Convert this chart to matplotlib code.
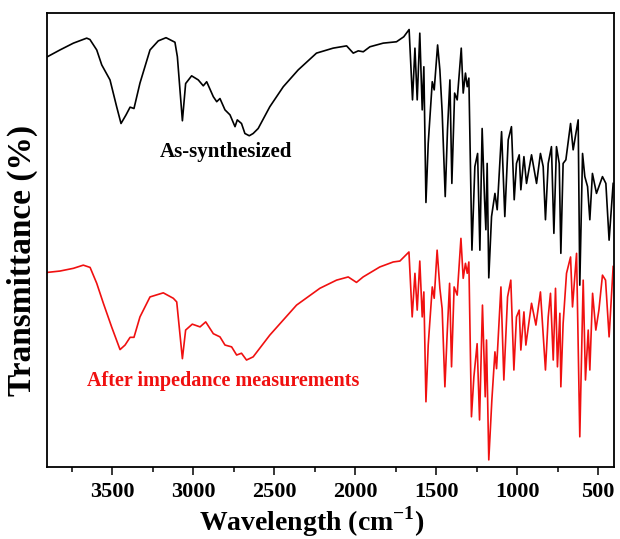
import numpy as np
import matplotlib
matplotlib.use('Agg')
from matplotlib import pyplot as plt
from matplotlib.ticker import MultipleLocator

plt.rcParams['font.family'] = ['Liberation Serif', 'DejaVu Serif']
plt.rcParams['font.weight'] = 'bold'
plt.rcParams['mathtext.fontset'] = 'custom'
plt.rcParams['mathtext.rm'] = 'Liberation Serif'
plt.rcParams['mathtext.bf'] = 'Liberation Serif:bold'

# as-synthesized spectrum
bk_wn = [3901, 3823, 3740, 3658, 3638, 3596, 3565, 3514, 3473, 3446,
         3415, 3390, 3366, 3329, 3267, 3216, 3168, 3113, 3098, 3067,
         3047, 3010, 2969, 2938, 2917, 2876, 2855, 2835, 2804, 2773,
         2742, 2728, 2702, 2681, 2654, 2630, 2599, 2527, 2444, 2352,
         2239, 2136, 2053, 2012, 1981, 1950, 1909, 1827, 1745, 1700,
         1667, 1646, 1631, 1617, 1601, 1586, 1576, 1563, 1549, 1524,
         1512, 1491, 1477, 1463, 1444, 1430, 1415, 1403, 1386, 1370,
         1345, 1333, 1319, 1308, 1298, 1279, 1261, 1244, 1230, 1216,
         1201, 1193, 1185, 1175, 1158, 1137, 1123, 1096, 1076, 1055,
         1035, 1018, 1004, 987, 977, 958, 942, 911, 880, 856,
         839, 825, 808, 788, 773, 757, 740, 730, 716, 699,
         670, 654, 623, 613, 596, 582, 565, 551, 535, 510,
         473, 452, 432, 407]
bk_t = [90.3, 91.8, 93.3, 94.4, 94.1, 91.8, 88.5, 85.2, 79.3, 75.6,
        77.5, 79.2, 78.9, 84.5, 91.8, 93.8, 94.5, 93.5, 90.3, 76.2,
        84.4, 86.1, 85.2, 83.9, 84.8, 81.5, 80.4, 81.1, 78.6, 77.5,
        74.9, 76.4, 75.6, 73.4, 72.9, 73.4, 74.5, 79.3, 83.7, 87.4,
        91.1, 92.2, 92.7, 91.1, 91.6, 91.4, 92.5, 93.3, 93.6, 94.7,
        96.3, 80.8, 92.2, 80.8, 95.5, 78.6, 88.1, 58.2, 71.2, 84.8,
        83.0, 92.9, 87.4, 78.2, 59.5, 74.2, 85.2, 62.4, 82.3, 80.8,
        92.2, 82.3, 86.7, 83.7, 85.6, 47.7, 66.1, 69.0, 47.7, 74.5,
        58.8, 52.2, 66.8, 41.6, 55.1, 60.2, 56.6, 73.8, 55.1, 72.0,
        74.9, 58.8, 66.8, 68.7, 61.0, 68.3, 62.4, 68.7, 62.4, 69.0,
        66.1, 54.4, 66.8, 70.5, 51.4, 70.5, 66.8, 47.0, 66.8, 67.6,
        75.6, 69.8, 76.4, 40.0, 69.0, 63.9, 61.7, 54.4, 64.6, 60.2,
        63.9, 62.4, 49.9, 62.4]

# after impedance measurements
rd_wn = [3901, 3823, 3740, 3679, 3637, 3596, 3555, 3504, 3452, 3421,
         3390, 3366, 3329, 3267, 3185, 3123, 3102, 3067, 3047, 3006,
         2958, 2923, 2876, 2835, 2804, 2763, 2732, 2702, 2671, 2630,
         2527, 2362, 2218, 2115, 2043, 1992, 1951, 1848, 1765, 1724,
         1668, 1648, 1631, 1617, 1601, 1586, 1576, 1563, 1549, 1524,
         1512, 1494, 1477, 1463, 1446, 1432, 1417, 1405, 1389, 1370,
         1347, 1333, 1319, 1308, 1298, 1282, 1267, 1247, 1232, 1214,
         1197, 1189, 1175, 1156, 1137, 1127, 1100, 1082, 1059, 1039,
         1020, 1004, 987, 977, 958, 946, 911, 884, 856, 825,
         808, 794, 777, 763, 751, 736, 730, 716, 695, 670,
         658, 633, 613, 592, 578, 561, 551, 534, 514, 495,
         473, 454, 432, 407]
rd_t = [42.8, 43.1, 43.7, 44.4, 43.9, 40.4, 36.0, 30.8, 25.8, 26.8,
        28.5, 28.5, 33.0, 37.4, 38.3, 37.1, 36.3, 23.8, 30.1, 31.4,
        30.8, 31.9, 29.3, 28.6, 26.8, 26.4, 24.6, 25.0, 23.5, 24.2,
        29.0, 35.6, 39.3, 41.1, 41.8, 40.6, 41.8, 44.0, 45.1, 45.3,
        47.3, 33.0, 42.6, 34.5, 45.3, 33.0, 38.5, 14.3, 26.8, 39.6,
        37.1, 47.7, 39.3, 34.8, 17.6, 29.3, 40.4, 22.0, 39.6, 37.8,
        50.3, 41.5, 44.8, 42.6, 45.1, 11.0, 19.8, 27.1, 10.3, 35.6,
        15.4, 27.9, 1.5, 14.7, 25.3, 21.6, 39.6, 19.1, 37.4, 41.1,
        21.3, 33.0, 34.5, 25.7, 34.1, 26.8, 36.0, 31.2, 38.5, 21.3,
        33.0, 38.2, 23.5, 39.3, 22.0, 33.8, 17.6, 31.5, 42.6, 46.2,
        35.2, 47.0, 6.6, 41.1, 19.1, 30.1, 21.3, 38.2, 30.1, 34.5,
        42.2, 41.1, 28.6, 44.1]

fig = plt.figure(figsize=(6.2, 5.39), dpi=100)
ax = fig.add_axes([0.0753, 0.1341, 0.9147, 0.8423])

ax.plot(bk_wn, bk_t, color='black', lw=1.2)
ax.plot(rd_wn, rd_t, color='#f01010', lw=1.2)

ax.set_xlim(3905, 403)
ax.set_ylim(0, 100)
ax.xaxis.set_major_locator(MultipleLocator(500))
ax.xaxis.set_minor_locator(MultipleLocator(250))
ax.set_yticks([])
ax.tick_params(axis='x', which='major', direction='out', length=6, width=1.1,
               labelsize=16, pad=5, top=False)
ax.tick_params(axis='x', which='minor', direction='out', length=3.5, width=1.1, top=False)
for lb in ax.get_xticklabels():
    lb.set_fontweight('bold')
for s in ax.spines.values():
    s.set_linewidth(1.3)

ax.set_xlabel('Wavelength (cm$^{\\mathbf{-1}}$)', fontsize=20, fontweight='bold')
ax.xaxis.set_label_coords(0.468, -0.082)
ax.set_ylabel('Transmittance (%)', fontsize=24, fontweight='bold')
ax.yaxis.set_label_coords(-0.042, 0.455)
ax.yaxis.label.set_va('center')

ax.text(2798, 69.3, 'As-synthesized', fontsize=15, fontweight='bold',
        color='black', ha='center', va='center')
ax.text(3656, 18.9, 'After impedance measurements', fontsize=14.5, fontweight='bold',
        color='#f01010', ha='left', va='center')

fig.savefig('out.png', dpi=100)
